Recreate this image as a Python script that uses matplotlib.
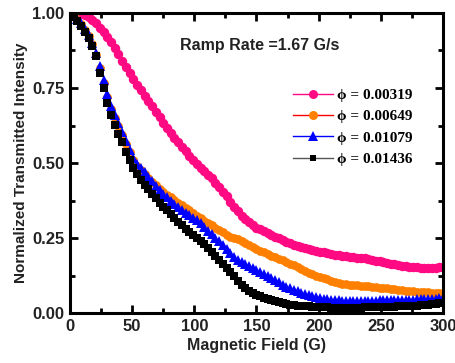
import numpy as np
import matplotlib
matplotlib.use("Agg")
import matplotlib.pyplot as plt
from matplotlib.lines import Line2D
from matplotlib.ticker import MultipleLocator, FormatStrFormatter

# field sampled every 3 G during the ramp
field = np.arange(0, 301, 3)

phi_labels = ["0.00319", "0.00649", "0.01079", "0.01436"]

int_00319 = [
    1.000, 1.000, 1.000, 0.997, 0.992, 0.985, 0.977, 0.966, 0.951, 0.935,
    0.920, 0.902, 0.883, 0.862, 0.841, 0.820, 0.799, 0.779, 0.761, 0.743,
    0.725, 0.707, 0.689, 0.671, 0.653, 0.635, 0.617, 0.600, 0.585, 0.570,
    0.555, 0.540, 0.525, 0.510, 0.497, 0.485, 0.473, 0.461, 0.449, 0.435,
    0.420, 0.405, 0.389, 0.371, 0.355, 0.340, 0.325, 0.312, 0.303, 0.294,
    0.285, 0.279, 0.273, 0.267, 0.261, 0.255, 0.249, 0.243, 0.238, 0.233,
    0.228, 0.224, 0.220, 0.216, 0.213, 0.210, 0.207, 0.204, 0.202, 0.199,
    0.197, 0.195, 0.193, 0.191, 0.189, 0.187, 0.186, 0.185, 0.183, 0.182,
    0.180, 0.178, 0.175, 0.173, 0.170, 0.168, 0.165, 0.162, 0.160, 0.158,
    0.157, 0.155, 0.154, 0.152, 0.151, 0.150, 0.150, 0.149, 0.150, 0.152,
    0.155,
]

int_00649 = [
    1.000, 0.990, 0.977, 0.962, 0.944, 0.922, 0.895, 0.860, 0.815, 0.768,
    0.720, 0.680, 0.650, 0.622, 0.594, 0.565, 0.536, 0.510, 0.490, 0.476,
    0.463, 0.450, 0.438, 0.426, 0.415, 0.405, 0.395, 0.386, 0.377, 0.368,
    0.359, 0.351, 0.343, 0.334, 0.325, 0.316, 0.307, 0.299, 0.292, 0.285,
    0.278, 0.270, 0.261, 0.254, 0.249, 0.246, 0.241, 0.234, 0.227, 0.220,
    0.214, 0.208, 0.202, 0.196, 0.191, 0.186, 0.181, 0.176, 0.171, 0.165,
    0.159, 0.153, 0.146, 0.140, 0.135, 0.130, 0.125, 0.120, 0.116, 0.112,
    0.108, 0.104, 0.101, 0.098, 0.096, 0.094, 0.093, 0.092, 0.091, 0.090,
    0.089, 0.088, 0.087, 0.085, 0.084, 0.083, 0.081, 0.080, 0.078, 0.077,
    0.075, 0.074, 0.072, 0.071, 0.070, 0.069, 0.069, 0.068, 0.067, 0.067,
    0.066,
]

int_01079 = [
    1.000, 0.992, 0.980, 0.965, 0.948, 0.928, 0.900, 0.865, 0.822, 0.778,
    0.730, 0.690, 0.660, 0.632, 0.605, 0.575, 0.545, 0.518, 0.497, 0.484,
    0.470, 0.455, 0.440, 0.424, 0.410, 0.398, 0.386, 0.375, 0.365, 0.355,
    0.345, 0.335, 0.327, 0.318, 0.309, 0.299, 0.287, 0.274, 0.262, 0.250,
    0.240, 0.228, 0.214, 0.200, 0.187, 0.176, 0.169, 0.163, 0.157, 0.150,
    0.144, 0.137, 0.131, 0.124, 0.118, 0.111, 0.103, 0.095, 0.088, 0.083,
    0.078, 0.073, 0.068, 0.064, 0.060, 0.056, 0.053, 0.050, 0.048, 0.046,
    0.045, 0.043, 0.042, 0.041, 0.040, 0.040, 0.040, 0.040, 0.040, 0.040,
    0.041, 0.041, 0.041, 0.042, 0.042, 0.042, 0.043, 0.043, 0.043, 0.044,
    0.044, 0.045, 0.045, 0.046, 0.046, 0.047, 0.047, 0.048, 0.048, 0.049,
    0.050,
]

int_01436 = [
    1.000, 0.985, 0.972, 0.958, 0.938, 0.915, 0.890, 0.855, 0.800, 0.750,
    0.700, 0.660, 0.628, 0.598, 0.570, 0.538, 0.510, 0.485, 0.464, 0.445,
    0.428, 0.414, 0.398, 0.383, 0.368, 0.355, 0.342, 0.329, 0.317, 0.305,
    0.292, 0.280, 0.270, 0.261, 0.251, 0.241, 0.229, 0.216, 0.203, 0.190,
    0.177, 0.162, 0.150, 0.138, 0.122, 0.106, 0.092, 0.083, 0.075, 0.067,
    0.061, 0.056, 0.051, 0.046, 0.042, 0.039, 0.036, 0.033, 0.030, 0.028,
    0.026, 0.025, 0.024, 0.023, 0.022, 0.021, 0.020, 0.020, 0.019, 0.019,
    0.018, 0.018, 0.018, 0.018, 0.018, 0.018, 0.018, 0.018, 0.018, 0.019,
    0.019, 0.019, 0.020, 0.020, 0.020, 0.020, 0.021, 0.021, 0.022, 0.022,
    0.023, 0.024, 0.024, 0.025, 0.026, 0.027, 0.028, 0.029, 0.030, 0.032,
    0.034,
]

series = [int_00319, int_00649, int_01079, int_01436]
marker_colors = ["#ff0a82", "#ff8000", "#0000ff", "#000000"]
line_colors = ["#ff0a82", "#ff0000", "#0000ff", "#555555"]
markers = ["o", "o", "^", "s"]
msizes = [6.8, 6.3, 6.5, 5.8]
leg_sizes = [6.5, 6.5, 6.5, 5.0]

fig = plt.figure(figsize=(4.55, 3.63), dpi=100)
ax = fig.add_axes([0.1538, 0.1377, 0.8198, 0.8265])

for y, c, m, s in zip(series, marker_colors, markers, msizes):
    ax.plot(field, y, linestyle="none", marker=m, color=c, markersize=s,
            markeredgewidth=0)

ax.set_xlim(0, 300)
ax.set_ylim(0, 1.0)
ax.xaxis.set_major_locator(MultipleLocator(50))
ax.xaxis.set_minor_locator(MultipleLocator(25))
ax.yaxis.set_major_locator(MultipleLocator(0.25))
ax.yaxis.set_minor_locator(MultipleLocator(0.125))
ax.yaxis.set_major_formatter(FormatStrFormatter("%.2f"))

for sp in ax.spines.values():
    sp.set_linewidth(2.2)
ax.tick_params(which="both", direction="in", top=True, right=True, width=2.0,
               labelsize=12, labelcolor="#222222", pad=4)
ax.tick_params(which="major", length=6)
ax.tick_params(which="minor", length=3.5)
for lab in ax.get_xticklabels() + ax.get_yticklabels():
    lab.set_fontweight("bold")
    lab.set_family("Liberation Sans")

ax.set_xlabel("Magnetic Field (G)", fontsize=11.5, fontweight="bold",
              family="Liberation Sans", color="#222222", labelpad=3)
ax.set_ylabel("Normalized Transmitted Intensity", fontsize=11, fontweight="bold",
              family="Liberation Sans", color="#222222", labelpad=3)

ax.text(0.295, 0.893, "Ramp Rate =1.67 G/s", transform=ax.transAxes,
        fontsize=11.5, fontweight="bold", family="Liberation Sans",
        color="#222222", va="center", ha="left")

handles = [Line2D([0], [0], color=lc, lw=1.0, marker=m, markerfacecolor=mc,
                  markeredgewidth=0, markersize=s)
           for lc, mc, m, s in zip(line_colors, marker_colors, markers, leg_sizes)]
labels = ["\u03d5 = " + p for p in phi_labels]
ax.legend(handles, labels, loc="upper right", bbox_to_anchor=(0.955, 0.795),
          frameon=False, handlelength=2.6, handletextpad=0.25, labelspacing=0.5,
          prop={"family": ["Liberation Serif", "DejaVu Serif"],
                "weight": "bold", "size": 11})

fig.savefig("out.png", dpi=100)
